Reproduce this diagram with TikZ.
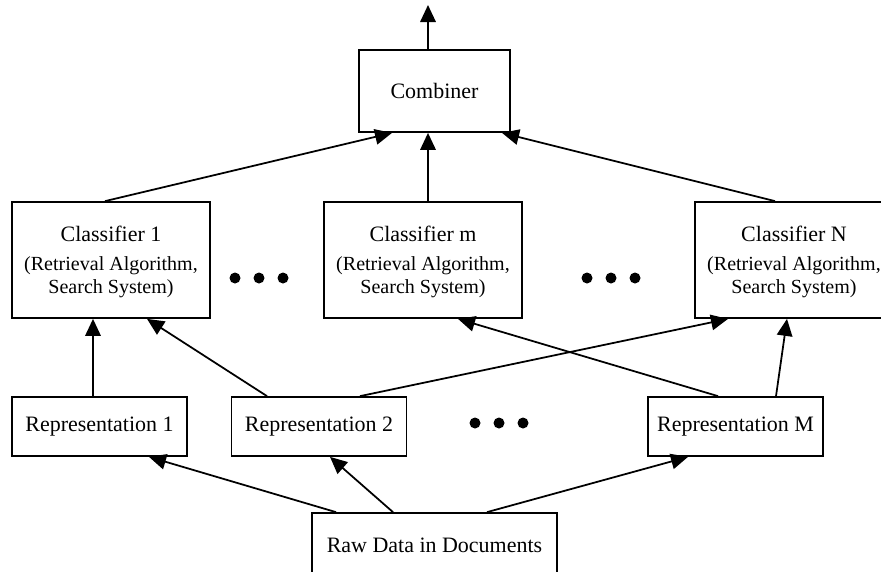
\documentclass[tikz,border=0pt]{standalone}
\usepackage{fontspec}
\setmainfont{Liberation Serif}
\usetikzlibrary{arrows.meta}

\tikzset{
  box/.style={draw, line width=1pt, inner sep=0pt, align=center,
    font=\fontsize{12.5pt}{13pt}\selectfont},
  conn/.style={line width=1pt, -{Triangle[length=0.34cm,width=0.31cm]}},
  dot/.style={fill=black}
}
\newcommand{\subline}[1]{{\fontsize{11.4pt}{12.5pt}\selectfont #1}}

\begin{document}
\begin{tikzpicture}
  \useasboundingbox (0,0) rectangle (17.62,-11.42);
  % top
  \node [box, minimum width=3.02cm, minimum height=1.64cm] (comb) at (8.69,-1.82) {Combiner};
  \coordinate (top) at (8.56,-0.10);
  % classifiers
  \node [box, minimum width=3.96cm, minimum height=2.32cm] (cl1) at (2.22,-5.20)
    {\\[-0.08cm]Classifier 1\\[0.13cm]\subline{(Retrieval Algorithm,}\\\subline{Search System)}};
  \node [box, minimum width=3.96cm, minimum height=2.32cm] (clm) at (8.46,-5.20)
    {\\[-0.08cm]Classifier m\\[0.13cm]\subline{(Retrieval Algorithm,}\\\subline{Search System)}};
  \node [box, minimum width=3.96cm, minimum height=2.32cm] (clN) at (15.88,-5.20)
    {\\[-0.08cm]Classifier N\\[0.13cm]\subline{(Retrieval Algorithm,}\\\subline{Search System)}};
  % representations
  \node [box, minimum width=3.50cm, minimum height=1.18cm] (rep1) at (1.99,-8.53) {Representation 1};
  \node [box, minimum width=3.50cm, minimum height=1.18cm] (rep2) at (6.38,-8.53) {Representation 2};
  \node [box, minimum width=3.50cm, minimum height=1.18cm] (repM) at (14.71,-8.53) {Representation M};
  \node [box, minimum width=4.90cm, minimum height=1.30cm] (raw) at (8.69,-10.91) {Raw Data in Documents};
  % dots
  \foreach \x in {4.70,5.18,5.66,11.74,12.22,12.70}
    \fill [dot] (\x,-5.56) circle [radius=0.11];
  \foreach \x in {9.50,9.98,10.46}
    \fill [dot] (\x,-8.46) circle [radius=0.11];
  % connectors
  \draw [conn] ([xshift=-0.13cm]comb.north) -- (top);
  \draw [conn] ([xshift=-0.12cm]cl1.north) -- ([xshift=-0.85cm]comb.south);
  \draw [conn] ([xshift=0.10cm]clm.north) -- ([xshift=-0.13cm]comb.south);
  \draw [conn] ([xshift=-0.38cm]clN.north) -- ([xshift=1.35cm]comb.south);
  \draw [conn] ([xshift=-0.13cm]rep1.north) -- ([xshift=-0.36cm]cl1.south);
  \draw [conn] ([xshift=-1.04cm]rep2.north) -- ([xshift=0.72cm]cl1.south);
  \draw [conn] ([xshift=0.82cm]rep2.north) -- ([xshift=-1.32cm]clN.south);
  \draw [conn] ([xshift=-0.35cm]repM.north) -- ([xshift=0.70cm]clm.south);
  \draw [conn] ([xshift=0.81cm]repM.north) -- ([xshift=-0.14cm]clN.south);
  \draw [conn] ([xshift=-1.97cm]raw.north) -- ([xshift=0.99cm]rep1.south);
  \draw [conn] ([xshift=-0.83cm]raw.north) -- ([xshift=0.22cm]rep2.south);
  \draw [conn] ([xshift=1.05cm]raw.north) -- ([xshift=-0.95cm]repM.south);
\end{tikzpicture}
\end{document}
